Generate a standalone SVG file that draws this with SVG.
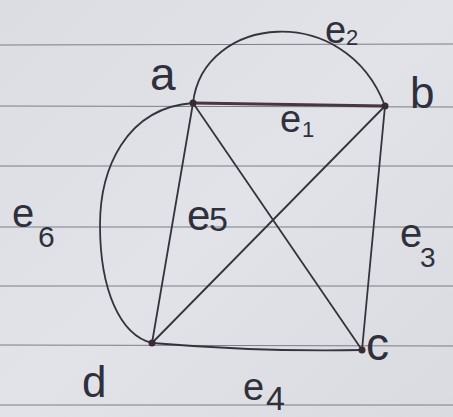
<svg xmlns="http://www.w3.org/2000/svg" width="453" height="417" viewBox="0 0 453 417">
<defs>
<linearGradient id="paper" x1="0" y1="0" x2="1" y2="1">
<stop offset="0" stop-color="#dcdde2"/>
<stop offset="0.5" stop-color="#e2e3e8"/>
<stop offset="1" stop-color="#dadbe0"/>
</linearGradient>
<style>
.rule{stroke:#7d7e86;stroke-width:1.2;fill:none}
.edge{stroke:#33343f;stroke-width:1.8;fill:none;stroke-linecap:round}
.e1{stroke:#4a3640;stroke-width:3}
.dot{fill:#3a2a33}
.lbl{font-family:"Liberation Sans","DejaVu Sans",sans-serif;fill:#2f303b}
.sub{font-family:"Liberation Sans","DejaVu Sans",sans-serif;fill:#2f303b}
</style>
</defs>
<rect x="0" y="0" width="453" height="417" fill="url(#paper)"/>
<g id="ruled-lines">
<line class="rule" x1="0" y1="45" x2="453" y2="44"/>
<line class="rule" x1="0" y1="106" x2="453" y2="107"/>
<line class="rule" x1="0" y1="166" x2="453" y2="166"/>
<line class="rule" x1="0" y1="227" x2="453" y2="227"/>
<line class="rule" x1="0" y1="286" x2="453" y2="286"/>
<line class="rule" x1="0" y1="345" x2="453" y2="346"/>
<line class="rule" x1="0" y1="405" x2="453" y2="405"/>
</g>
<g id="connectors">
<path id="e1" class="edge e1" d="M193,103 L385,106"/>
<path id="e2" class="edge" d="M193,103 C203,15 345,0 385,106"/>
<path id="e3" class="edge" d="M385,106 L362,350"/>
<path id="e4" class="edge" d="M152,343 Q260,352 362,350"/>
<path id="e5" class="edge" d="M385,106 L152,343"/>
<path id="e6" class="edge" d="M193,103 C125,108 100,170 100,225 C100,290 120,335 152,343"/>
<path id="ad" class="edge" d="M193,103 L152,343"/>
<path id="ac" class="edge" d="M193,103 L362,350"/>
</g>
<g id="node-a"><circle class="dot" cx="193" cy="103" r="3.5"/><text class="lbl" x="150" y="90" font-size="46">a</text></g>
<g id="node-b"><circle class="dot" cx="385" cy="106" r="3.5"/><text class="lbl" x="410" y="108" font-size="44">b</text></g>
<g id="node-c"><circle class="dot" cx="362" cy="350" r="3.5"/><text class="lbl" x="366" y="360" font-size="46">c</text></g>
<g id="node-d"><circle class="dot" cx="152" cy="343" r="3.5"/><text class="lbl" x="82" y="397" font-size="44">d</text></g>
<g id="labels">
<text class="lbl" x="280" y="132" font-size="38">e<tspan class="sub" x="302" y="137" font-size="22">1</tspan></text>
<text class="lbl" x="325" y="43" font-size="38">e<tspan class="sub" x="346" y="45" font-size="22">2</tspan></text>
<text class="lbl" x="400" y="247" font-size="40">e<tspan class="sub" x="420" y="267" font-size="28">3</tspan></text>
<text class="lbl" x="243" y="400" font-size="38">e<tspan class="sub" x="266" y="410" font-size="34">4</tspan></text>
<text class="lbl" x="187" y="230" font-size="42">e<tspan class="sub" x="209" y="231" font-size="34">5</tspan></text>
<text class="lbl" x="12" y="227" font-size="40">e<tspan class="sub" x="38" y="247" font-size="30">6</tspan></text>
</g>
</svg>
